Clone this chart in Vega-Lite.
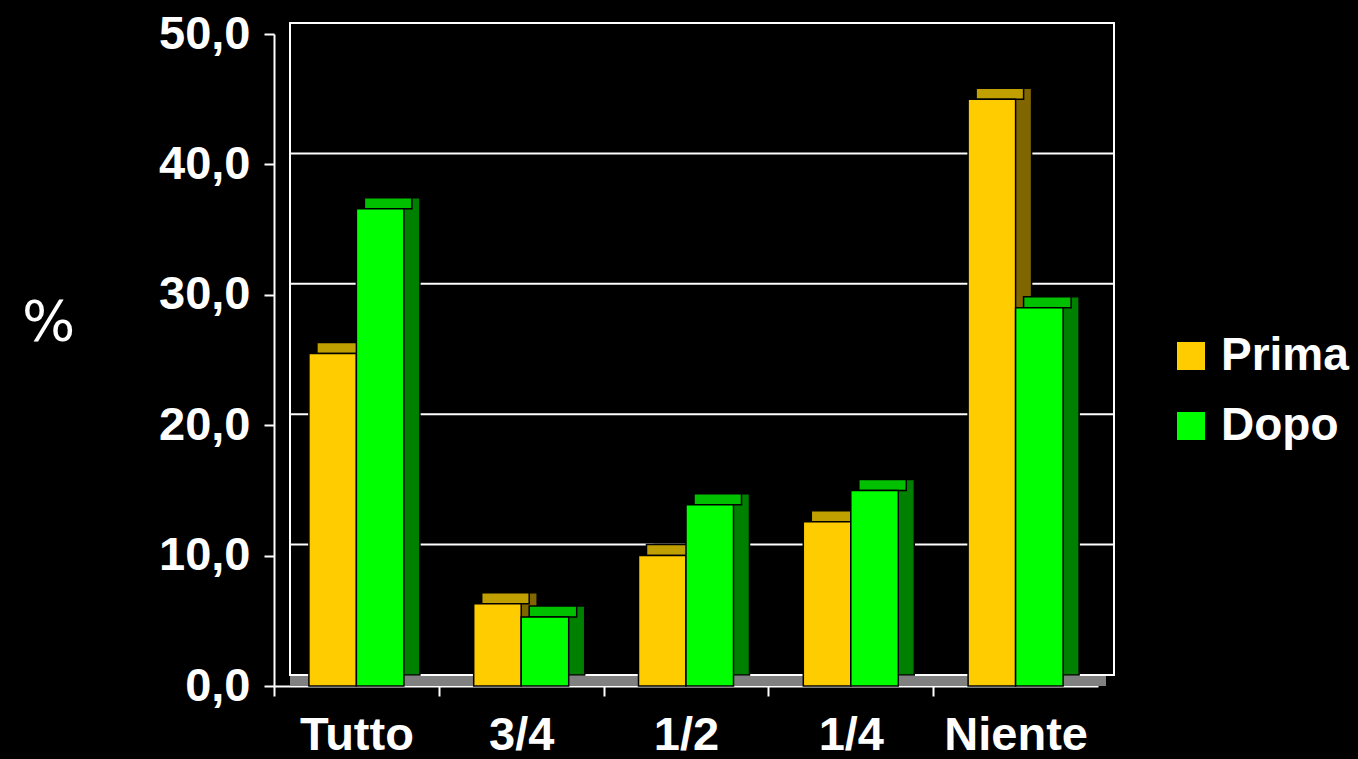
{
  "$schema": "https://vega.github.io/schema/vega-lite/v6.json",
  "autosize": "none",
  "width": 824,
  "height": 652,
  "padding": {"left": 290, "top": 23, "right": 244, "bottom": 84},
  "background": "black",
  "view": {"stroke": "white", "strokeWidth": 2},
  "config": {
    "font": "Liberation Sans",
    "axis": {"labelFont": "Liberation Sans", "titleFont": "Liberation Sans"},
    "legend": {"labelFont": "Liberation Sans"}
  },
  "data": {
    "values": [
      {"cat": "Tutto", "period": "Prima", "value": 25.5},
      {"cat": "Tutto", "period": "Dopo", "value": 36.6},
      {"cat": "3/4", "period": "Prima", "value": 6.3},
      {"cat": "3/4", "period": "Dopo", "value": 5.3},
      {"cat": "1/2", "period": "Prima", "value": 10.0},
      {"cat": "1/2", "period": "Dopo", "value": 13.9},
      {"cat": "1/4", "period": "Prima", "value": 12.6},
      {"cat": "1/4", "period": "Dopo", "value": 15.0},
      {"cat": "Niente", "period": "Prima", "value": 45.0},
      {"cat": "Niente", "period": "Dopo", "value": 29.0}
    ]
  },
  "resolve": {"scale": {"xOffset": "independent"}},
  "layer": [
    {
      "data": {"values": [{"base": 0}]},
      "mark": {"type": "rect", "fill": "#808080", "y2Offset": 11, "xOffset": -8, "x2Offset": -8},
      "encoding": {
        "y": {"field": "base", "type": "quantitative"},
        "y2": {"field": "base"}
      }
    },
    {
      "data": {"values": [{"g": 0}, {"g": 10}, {"g": 20}, {"g": 30}, {"g": 40}, {"g": 50}]},
      "mark": {"type": "rule", "color": "white", "strokeWidth": 2},
      "encoding": {
        "y": {"field": "g", "type": "quantitative"}
      }
    },
    {
      "mark": {"type": "bar", "stroke": "black", "strokeWidth": 1.5},
      "encoding": {
        "x": {"field": "cat", "type": "nominal", "sort": ["Tutto", "3/4", "1/2", "1/4", "Niente"]},
        "xOffset": {"field": "period", "sort": ["Prima", "Dopo"], "scale": {"range": [0, 95], "paddingInner": 0, "paddingOuter": 0}},
        "y": {"field": "value", "type": "quantitative"},
        "fill": {"condition": {"test": "datum.period === 'Prima'", "value": "#806600"}, "value": "#008000"}
      }
    },
    {
      "mark": {"type": "bar", "stroke": "black", "strokeWidth": 1.5, "y2Offset": 11},
      "encoding": {
        "x": {"field": "cat", "type": "nominal", "sort": ["Tutto", "3/4", "1/2", "1/4", "Niente"]},
        "xOffset": {"field": "period", "sort": ["Prima", "Dopo"], "scale": {"range": [-8, 87], "paddingInner": 0, "paddingOuter": 0}},
        "y": {"field": "value", "type": "quantitative"},
        "y2": {"field": "value"},
        "fill": {"condition": {"test": "datum.period === 'Prima'", "value": "#C0A000"}, "value": "#00C000"}
      }
    },
    {
      "mark": {"type": "bar", "stroke": "black", "strokeWidth": 1.5, "yOffset": 11, "y2Offset": 11},
      "encoding": {
        "x": {
          "field": "cat", "type": "nominal", "sort": ["Tutto", "3/4", "1/2", "1/4", "Niente"],
          "scale": {"paddingInner": 0.4235, "paddingOuter": 0.21175},
          "axis": {
            "title": null, "orient": "bottom", "offset": 11, "position": -16, "tickOffset": -82.4, "labelOffset": 82.4,
            "domain": true, "domainColor": "white", "domainWidth": 2,
            "ticks": true, "tickColor": "white", "tickWidth": 2, "tickSize": 10,
            "labelColor": "white", "labelFontSize": 47, "labelFontWeight": "bold", "labelPadding": 39,
            "labelAngle": 0, "labelAlign": "center", "grid": false
          }
        },
        "xOffset": {"field": "period", "sort": ["Prima", "Dopo"], "scale": {"range": [-16, 79], "paddingInner": 0, "paddingOuter": 0}},
        "y": {
          "field": "value", "type": "quantitative",
          "scale": {"domain": [0, 50], "nice": false},
          "axis": {
            "title": "%", "titleAngle": 0, "titleColor": "white", "titleFont": "DejaVu Sans", "titleFontSize": 56, "titleFontWeight": "normal",
            "titleAlign": "center", "titleBaseline": "middle", "titleX": -226, "titleY": 288,
            "offset": 16, "position": 11, "values": [0, 10, 20, 30, 40, 50],
            "domainColor": "white", "domainWidth": 2, "tickColor": "white", "tickWidth": 2, "tickSize": 10,
            "labelColor": "white", "labelFontSize": 47, "labelFontWeight": "bold", "labelPadding": 14,
            "labelExpr": "replace(format(datum.value, '.1f'), '.', ',')", "grid": false
          }
        },
        "fill": {
          "field": "period", "type": "nominal",
          "scale": {"domain": ["Prima", "Dopo"], "range": ["#FFCC00", "#00FF00"]},
          "legend": {
            "title": null, "orient": "none", "legendX": 878, "legendY": 310, "padding": 0,
            "symbolType": "square", "symbolSize": 784, "symbolStrokeWidth": 0,
            "labelColor": "white", "labelFontSize": 46, "labelFontWeight": "bold", "labelOffset": 7,
            "rowPadding": 24, "labelLimit": 300
          }
        }
      }
    }
  ]
}
